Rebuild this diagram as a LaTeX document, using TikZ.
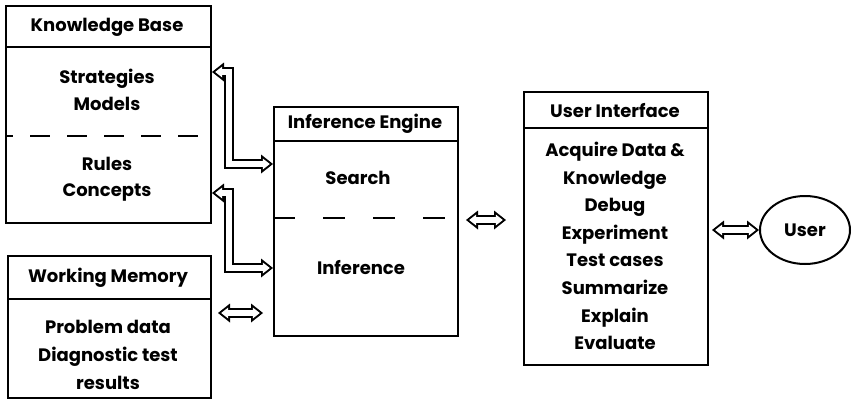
\documentclass[tikz,border=0pt]{standalone}
\usepackage{fontspec}
\setmainfont{Poppins}
\usetikzlibrary{arrows.meta,calc,shapes.geometric}
\begin{document}
\begin{tikzpicture}[x=1pt,y=-1pt,
  frame/.style={draw, line width=2pt, inner sep=0, anchor=north west},
  rule/.style={line width=2pt},
  dashrule/.style={line width=2pt, dash pattern=on 20pt off 17pt, dash phase=12pt},
  txt/.style={font=\fontsize{18}{26.5}\selectfont\bfseries, align=center, inner sep=0},
  body/.style={txt, font=\fontsize{18}{27.6}\selectfont\bfseries},
  outerhead/.tip={Triangle[length=12pt, width=19pt, line width=0pt]},
  innerhead/.tip={Triangle[length=7pt, width=11pt, line width=0pt]},
  hollow/.style={draw=white, line width=6pt, innerhead-innerhead,
    shorten <=3.2pt, shorten >=3.2pt,
    preaction={draw=black, line width=10pt, outerhead-outerhead,
      shorten <=0pt, shorten >=0pt}},
]
\useasboundingbox (0,0) rectangle (852,400);

% ---- Knowledge Base ----
\node[frame, minimum width=205pt, minimum height=217pt] (kb) at (5,5) {};
\draw[rule] (5,47) -- (210,47);
\draw[dashrule] (5,136) -- (210,136);
\node[txt] (kbt) at (107,27) {Knowledge Base};
\node[txt] (kbs) at (107,90) {Strategies\\Models};
\node[txt] (kbr) at (107,179) {Rules\\Concepts};

% ---- Working Memory ----
\node[frame, minimum width=203pt, minimum height=142pt] (wm) at (7,255) {};
\draw[rule] (7,299) -- (210,299);
\node[txt] (wmt) at (108,278) {Working Memory};
\node[body] (wmb) at (108,355) {Problem data\\Diagnostic test\\results};

% ---- Inference Engine ----
\node[frame, minimum width=184pt, minimum height=229pt] (ie) at (273,106) {};
\draw[rule] (273,141) -- (457,141);
\draw[line width=2pt, dash pattern=on 22pt off 28pt] (273,218) -- (457,218);
\node[txt] (iet) at (365,124) {Inference Engine};
\node[txt] (ies) at (358,178) {Search};
\node[txt] (iei) at (361,268) {Inference};

% ---- User Interface ----
\node[frame, minimum width=184pt, minimum height=273pt] (ui) at (523,91) {};
\draw[rule] (523,128) -- (707,128);
\node[txt] (uit) at (615,111) {User Interface};
\node[body] (uib) at (615,246)
  {Acquire Data \&\\Knowledge\\Debug\\Experiment\\Test cases\\Summarize\\Explain\\Evaluate};

% ---- User ----
\node[draw, line width=2pt, ellipse, minimum width=90pt, minimum height=68pt, inner sep=0] (user) at (805,230) {};
\node[txt] (usert) at (805,230) {User};

% ---- connectors ----
\coordinate (k1) at (212,72);
\coordinate (k2) at (212,193);
\draw[hollow] (k1) -- ++(17,0) |- (ie.west |- 0,164);
\draw[hollow] (k2) -- ++(17,0) |- (ie.west |- 0,268);

\coordinate (w1) at (218,313);
\coordinate (w2) at (263,313);
\draw[hollow] (w1) -- (w2);

\coordinate (e1) at (466,220);
\coordinate (e2) at (506,220);
\draw[hollow] (e1) -- (e2);

\coordinate (u1) at (712,230);
\draw[hollow] (u1) -- (user.west);
\end{tikzpicture}
\end{document}
